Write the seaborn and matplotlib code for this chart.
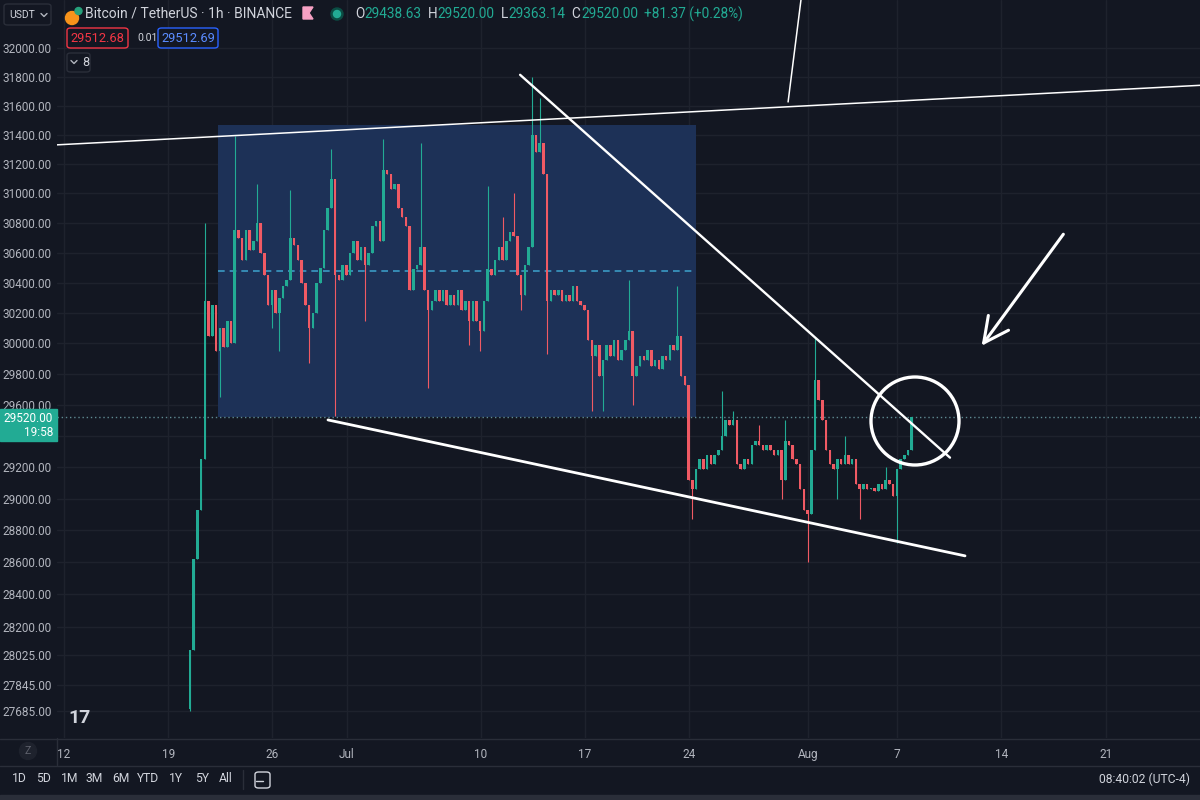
import numpy as np
import pandas as pd
import seaborn as sns
import matplotlib.pyplot as plt
from matplotlib.patches import Rectangle, Circle, FancyBboxPatch, Polygon
from matplotlib.lines import Line2D
from matplotlib.ticker import NullLocator

# --- data: 6h candles ---
# time axis = days after Jun 12 00:00
first_open = 27700
start_day = 8.47
step = 0.25
closes = [
    28060, 28620, 28930, 29250, 30280, 30050, 30250, 29950, 30100, 29980,
    30150, 30000, 30750, 30700, 30550, 30750, 30620, 30680, 30800, 30600,
    30450, 30250, 30350, 30200, 30300, 30380, 30420, 30700, 30650, 30550,
    30400, 30250, 30100, 30200, 30400, 30500, 30750, 30900, 31100, 30450,
    30420, 30520, 30450, 30600, 30680, 30550, 30640, 30520, 30600, 30780,
    30810, 30680, 31160, 31130, 31030, 31060, 30900, 30840, 30780, 30350,
    30490, 30520, 30640, 30350, 30220, 30280, 30350, 30280, 30350, 30250,
    30320, 30250, 30350, 30220, 30280, 30150, 30280, 30150, 30080, 30280,
    30490, 30450, 30550, 30640, 30550, 30680, 30740, 30710, 30450, 30320,
    30520, 30640, 31400, 31280, 31340, 31130, 30280, 30350, 30320, 30350,
    30280, 30320, 30280, 30380, 30280, 30250, 30220, 30020, 29920, 29990,
    29790, 29890, 29990, 29920, 30020, 29890, 29960, 30020, 30080, 29790,
    29850, 29920, 29890, 29960, 29850, 29890, 29830, 29920, 29890, 29990,
    29960, 30050, 29790, 29730, 29120, 29060, 29190, 29250, 29190, 29280,
    29220, 29280, 29310, 29400, 29500, 29470, 29500, 29220, 29190, 29250,
    29220, 29340, 29370, 29340, 29310, 29340, 29310, 29280, 29310, 29120,
    29370, 29340, 29250, 29220, 29060, 28930, 28900, 29310, 29760, 29630,
    29500, 29310, 29220, 29190, 29250, 29220, 29280, 29220, 29250, 29090,
    29060, 29090, 29060, 29070, 29050, 29090, 29060, 29120, 29090, 29020,
    29190, 29250, 29280, 29310, 29520,
]
spike_highs = {4: 30800, 12: 31390, 18: 31060, 27: 31020, 38: 31300, 52: 31370,
               62: 31340, 80: 31050, 84: 30840, 87: 31000, 92: 31800, 94: 31650,
               118: 30420, 131: 30380, 143: 29690, 146: 29560, 153: 29470,
               160: 29500, 168: 30040, 176: 29400, 187: 29200}
spike_lows = {0: 27685, 8: 29650, 22: 30100, 24: 29950, 32: 29870, 39: 29530,
              47: 30150, 64: 29710, 75: 29990, 78: 29950, 89: 30220, 96: 29930,
              108: 29560, 111: 29560, 119: 29600, 135: 28870, 159: 29000,
              166: 28600, 174: 29000, 180: 28870, 190: 28720}

price_ticks = [32000, 31800, 31600, 31400, 31200, 31000, 30800, 30600, 30400,
               30200, 30000, 29800, 29600, 29400, 29200, 29000, 28800, 28600,
               28400, 28200, 28025, 27845, 27685]
date_ticks = [0, 7, 14, 19, 28, 35, 42, 50, 56, 63, 70]
date_labels = ["12", "19", "26", "Jul", "10", "17", "24", "Aug", "7", "14", "21"]
last_price = 29520.00
ohlc = [("O", "29438.63"), ("H", "29520.00"), ("L", "29363.14"), ("C", "29520.00")]
change = "+81.37 (+0.28%)"

# drawings (day, price)
upper_line = [(-0.47, 31330), (76.34, 31740)]
tick_line = [(48.66, 31625), (49.6, 32400)]
falling_line = [(30.65, 31813), (59.54, 29261)]
lower_line = [(17.74, 29503), (60.55, 28640)]
box_days = (10.35, 42.47)
box_prices = (29520, 31467)
box_mid = 30480

# --- candles table ---
n = len(closes)
opens = [first_open] + closes[:-1]
df = pd.DataFrame({"t": start_day + step * np.arange(n), "open": opens, "close": closes})
df["high"] = [max(o, c, spike_highs.get(i, 0)) for i, (o, c) in enumerate(zip(opens, closes))]
df["low"] = [min(o, c, spike_lows.get(i, 1e9)) for i, (o, c) in enumerate(zip(opens, closes))]
UP, DOWN = "#22ab94", "#f05a64"
df["color"] = np.where(df["close"] >= df["open"], UP, DOWN)
df["bottom"] = df[["open", "close"]].min(axis=1)
df["height"] = (df["close"] - df["open"]).abs().clip(lower=8)

# --- style ---
BG = "#131722"
GRID = "#1e222d"
TXT = "#b2b5be"
sns.set_theme(style="dark", rc={"axes.facecolor": BG, "figure.facecolor": BG,
                                "axes.edgecolor": BG, "text.color": TXT,
                                "xtick.color": TXT, "ytick.color": TXT})
plt.rcParams["font.family"] = ["Roboto", "DejaVu Sans"]

W, H = 1200, 800
fig = plt.figure(figsize=(12, 8), dpi=100)
ax = fig.add_axes([57 / W, 62 / H, 1 - 57 / W, 738 / H])
ax.set_yscale("log")
ax.set_xlim(-0.47, 76.34)
ax.set_ylim(27523, 32337)

# grid
for p in price_ticks:
    ax.axhline(p, color=GRID, lw=1, zorder=0)
for d in date_ticks:
    ax.axvline(d, color=GRID, lw=1, zorder=0)

# range box
ax.add_patch(Rectangle((box_days[0], box_prices[0]), box_days[1] - box_days[0],
                       box_prices[1] - box_prices[0], facecolor="#1d3157",
                       edgecolor="none", zorder=1))
ax.plot(box_days, [box_mid, box_mid], color="#3b9ac4", lw=1.2, ls=(0, (4, 3)), zorder=2)

# candles
ax.vlines(df["t"], df["low"], df["high"], colors=df["color"], lw=0.8, zorder=3)
ax.bar(df["t"], df["height"], bottom=df["bottom"], width=0.17, color=df["color"],
       linewidth=0, zorder=4)

# last price dotted line
ax.axhline(last_price, color="#5f8a92", lw=1, ls=(0, (1, 2)), zorder=2)

# trend lines
for seg, lw in [(upper_line, 1.1), (tick_line, 1.1), (falling_line, 1.7), (lower_line, 2.0)]:
    xs, ys = zip(*seg)
    ax.plot(xs, ys, color="white", lw=lw, zorder=6, solid_capstyle="round")

# axes ticks (29400 sits under the last-price tag)
ax.yaxis.set_minor_locator(NullLocator())
ax.set_yticks(price_ticks)
ax.set_yticklabels(["" if p == 29400 else f"{p:.2f}" for p in price_ticks])
ax.set_xticks(date_ticks)
ax.set_xticklabels(date_labels)
ax.tick_params(axis="y", length=0, pad=4, labelsize=8.5, labelcolor=TXT)
ax.tick_params(axis="x", length=0, pad=7, labelsize=8.5, labelcolor=TXT)
sns.despine(ax=ax, left=True, bottom=True)


def fx(x):
    return x / W


def fy(y):
    return 1 - y / H


def ftext(x, y, s, **kw):
    kw.setdefault("va", "center")
    kw.setdefault("fontsize", 9)
    return fig.text(fx(x), fy(y), s, **kw)


def fline(xs, ys, **kw):
    fig.add_artist(Line2D([fx(v) for v in xs], [fy(v) for v in ys], **kw))


def fbox(x0, y0, x1, y1, ec, fc=BG, lw=1):
    fig.add_artist(FancyBboxPatch((fx(x0), fy(y1)), fx(x1) - fx(x0), fy(y0) - fy(y1),
                                  boxstyle="round,pad=0,rounding_size=0.003",
                                  transform=fig.transFigure, ec=ec, fc=fc, lw=lw))


def chevron(x, y, color=TXT):
    fline([x - 3, x, x + 3], [y - 1.5, y + 1.5, y - 1.5], color=color, lw=1)


renderer = fig.canvas.get_renderer()

# circle and arrow (pixel placed)
fig.add_artist(Circle((915 / 100, (H - 421) / 100), 0.44, transform=fig.dpi_scale_trans,
                      fill=False, ec="white", lw=2.4))
ax.annotate("", xy=(fx(980), fy(348)), xytext=(fx(1065), fy(232)), xycoords="figure fraction",
            arrowprops=dict(arrowstyle="->,head_length=0.9,head_width=0.45", color="white",
                            lw=2.2, mutation_scale=20))

# last price label on price scale
fig.add_artist(Rectangle((0, fy(441)), fx(57), 32 / H, transform=fig.transFigure,
                         color="#22ab94", zorder=5))
ftext(53, 418, f"{last_price:.2f}", color="white", ha="right", fontsize=8.5, zorder=6)
ftext(53, 433, "19:58", color="white", ha="right", fontsize=8.5, zorder=6)

# header
fbox(4, 4, 51, 25, "#2a2e39")
ftext(9, 15, "USDT", color="#d1d4dc", fontsize=7.5)
chevron(44, 15)
fig.add_artist(Circle((0.72, (H - 18) / 100), 0.065, transform=fig.dpi_scale_trans, color="#f7931a"))
fig.add_artist(Circle((0.785, (H - 11) / 100), 0.035, transform=fig.dpi_scale_trans, color="#26a17b"))
ftext(85, 14, "Bitcoin / TetherUS · 1h · BINANCE", color="#d1d4dc", fontsize=10)
fig.add_artist(Polygon([(fx(303), fy(7)), (fx(313), fy(7)), (fx(309), fy(13)),
                        (fx(313), fy(19)), (fx(303), fy(19))],
                       transform=fig.transFigure, color="#f7a1c4"))
fig.add_artist(Circle((3.37, (H - 14) / 100), 0.06, transform=fig.dpi_scale_trans, color="#0b4d44"))
fig.add_artist(Circle((3.37, (H - 14) / 100), 0.035, transform=fig.dpi_scale_trans, color="#22ab94"))
GREEN = "#22ab94"
cx = 355
for letter, val in ohlc:
    t = ftext(cx, 14, letter, color="#d1d4dc", fontsize=9.8)
    cx += t.get_window_extent(renderer).width + 0.5
    t = ftext(cx, 14, val, color=GREEN, fontsize=9.8)
    cx += t.get_window_extent(renderer).width + 6
ftext(cx, 14, change, color=GREEN, fontsize=9.8)

fbox(67, 28, 128, 48, "#f23645")
ftext(97.5, 38, "29512.68", color="#f23645", ha="center", fontsize=9.3)
ftext(137, 38, "0.01", color="#d1d4dc", fontsize=7.5)
fbox(158, 28, 218, 48, "#2962ff")
ftext(188, 38, "29512.69", color="#5b8cff", ha="center", fontsize=9.3)
fbox(67, 53, 90, 72, "#2a2e39")
chevron(74, 62)
ftext(82, 62, "8", color="#d1d4dc", fontsize=9)

# tradingview logo
ftext(68, 718, "17", color="#d1d4dc", fontsize=14, fontweight="bold")

# bottom time scale + toolbar
fline([0, W], [738.5, 738.5], color="#2a2e39", lw=1)
fline([0, W], [765.5, 765.5], color="#2a2e39", lw=1)
fline([57, 57], [738, 765], color="#2a2e39", lw=1)
fig.add_artist(Circle((0.28, (H - 751) / 100), 0.085, transform=fig.dpi_scale_trans, color="#1e222d"))
ftext(28, 751, "Z", color="#5d606b", ha="center", fontsize=7.5)
for x, s in [(12, "1D"), (36, "5D"), (61, "1M"), (86, "3M"), (112, "6M"),
             (137, "YTD"), (169, "1Y"), (195, "5Y"), (219, "All")]:
    ftext(x, 779, s, color="#d1d4dc", fontsize=8.7)
fline([243, 243], [770, 789], color="#2a2e39", lw=1)
fbox(255, 772, 270, 788, "#d1d4dc", lw=1)
fline([256, 263], [781, 781], color="#d1d4dc", lw=1)
ftext(1190, 779, "08:40:02 (UTC-4)", color="#d1d4dc", ha="right", fontsize=8.7)
fig.add_artist(Rectangle((0, 0), 1, 5 / H, transform=fig.transFigure, color="#2a2e39"))

fig.savefig("out.png", dpi=100)
plt.close(fig)
